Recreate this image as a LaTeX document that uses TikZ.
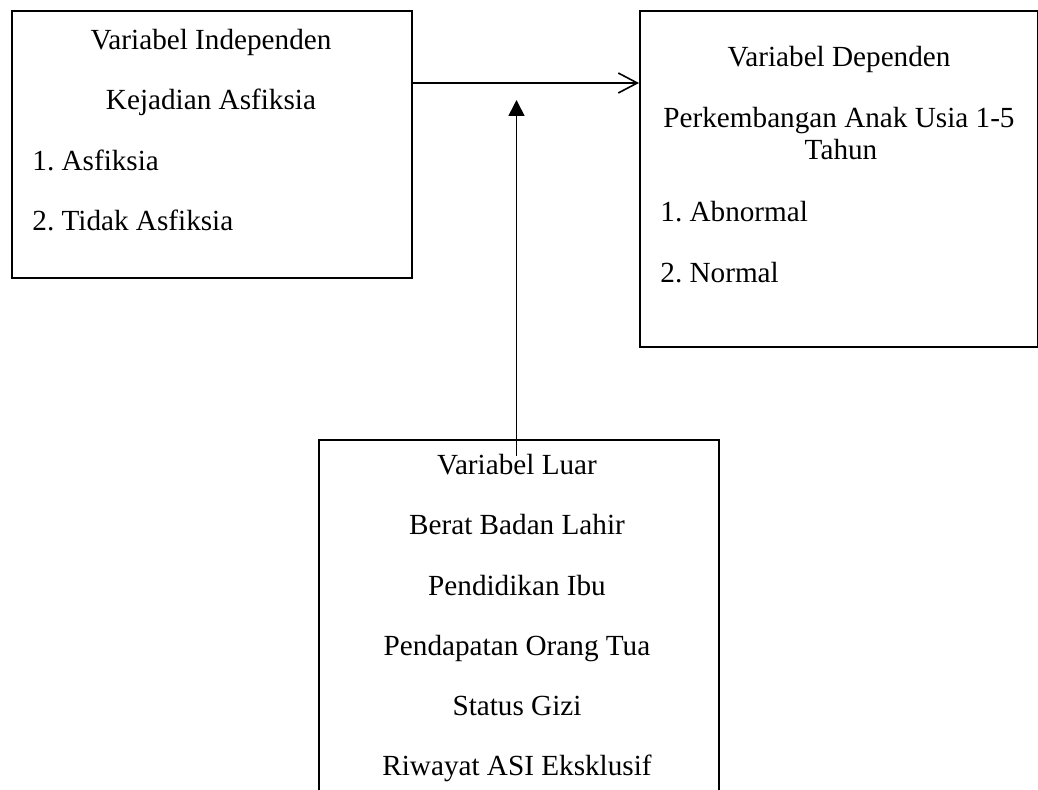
\documentclass[tikz,border=0pt]{standalone}
\usepackage{fontspec}
\setmainfont{Liberation Serif}
\frenchspacing
\usetikzlibrary{arrows.meta,positioning}

\tikzset{
	kotak/.style={draw, line width=0.8pt, inner sep=0pt, minimum width=200pt, anchor=north west},
	judul/.style={anchor=base, inner sep=0pt, font=\fontsize{14.6}{17}\selectfont},
	butir/.style={judul, anchor=base west},
	panah/.style={line width=0.8pt}
}

\begin{document}
\begin{tikzpicture}[x=0.5pt,y=-0.5pt]
		\clip (0,0) rectangle (1038,790);
		% kotak
		\node[kotak, minimum height=133.5pt] (indep) at (11,10) {};
		\node[kotak, minimum width=199pt, minimum height=168pt] (dep) at (639,10) {};
		\node[kotak, minimum height=182pt] (luar) at (318,439) {};
		%
		\node[judul] (indep1) at (211,50) {Variabel Independen};
		\node[judul] (indep2) at (211,110) {Kejadian Asfiksia};
		\node[butir] (indep3) at (32,171) {1. Asfiksia};
		\node[butir] (indep4) at (32,231) {2. Tidak Asfiksia};
		%
		\node[judul] (dep1) at (839,67) {Variabel Dependen};
		\node[judul] (dep2) at (839,128) {Perkembangan Anak Usia 1-5};
		\node[judul] (dep3) at (841,160) {Tahun};
		\node[butir] (dep4) at (660,222) {1. Abnormal};
		\node[butir] (dep5) at (660,283) {2. Normal};
		%
		\node[judul] (luar1) at (517,475) {Variabel Luar};
		\node[judul] (luar2) at (517,535) {Berat Badan Lahir};
		\node[judul] (luar3) at (517,595) {Pendidikan Ibu};
		\node[judul] (luar4) at (517,655) {Pendapatan Orang Tua};
		\node[judul] (luar5) at (517,715) {Status Gizi};
		\node[judul] (luar6) at (517,775) {Riwayat ASI Eksklusif};
		%
		\coordinate (h) at (411,83);
		\coordinate (src) at (516.5,456);
		\coordinate (dst) at (516.5,100);
		\draw[panah, -{Straight Barb[length=9.5pt,width=10pt]}] (h) -- (h -| dep.west);
		\draw[panah, -{Triangle[length=8pt,width=8pt]}] (src) -- (dst);
\end{tikzpicture}
\end{document}
